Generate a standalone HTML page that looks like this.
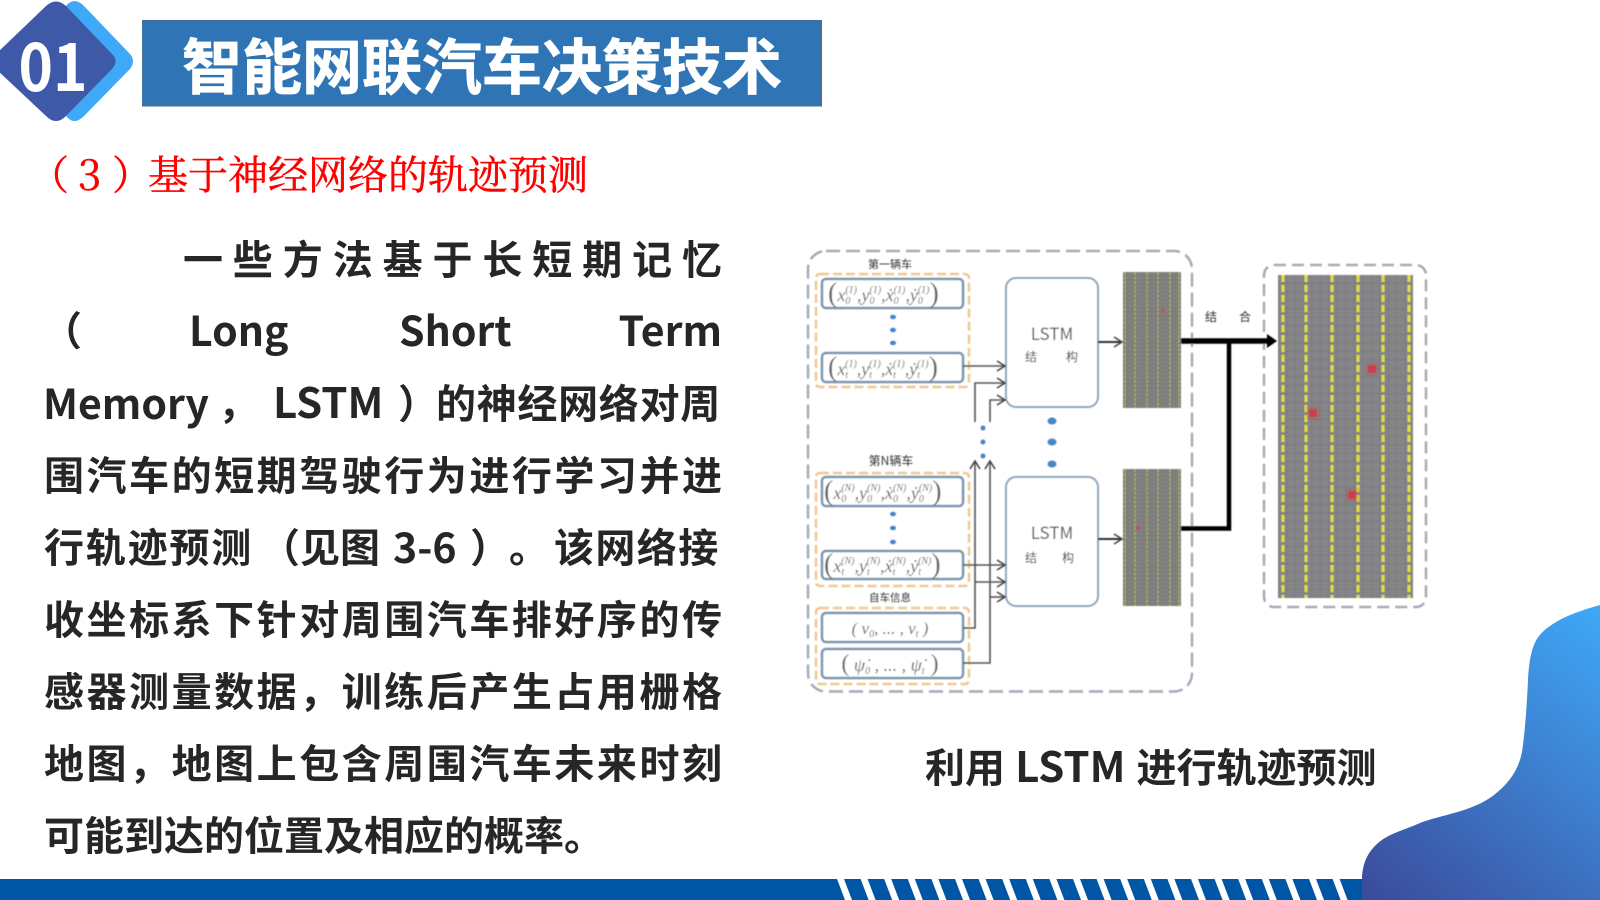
<!DOCTYPE html>
<html lang="zh">
<head>
<meta charset="utf-8">
<title>智能网联汽车决策技术</title>
<style>
html,body{margin:0;padding:0;background:#fff}
#p{position:relative;width:1600px;height:900px;overflow:hidden;background:#fff;font-family:"Noto Sans CJK SC","Liberation Sans",sans-serif}
svg{position:absolute;left:0;top:0}
.l{position:absolute;left:44px;width:678px;height:72px;line-height:72px;font-size:40px;font-weight:700;color:#262626;text-align:justify;text-align-last:justify}
.w{position:absolute;height:72px;line-height:72px;font-size:40px;font-weight:700;color:#262626;white-space:nowrap}
.a{font-size:41px}
.h{position:absolute;font-family:"Noto Serif CJK SC","Liberation Serif",serif;font-size:40px;color:#f00;-webkit-text-stroke:.5px #f00;line-height:50px;top:148px;white-space:nowrap}
</style>
</head>
<body>
<div id="p">
<svg width="1600" height="900" viewBox="0 0 1600 900">
<defs>
<linearGradient id="bg" x1="1362" y1="900" x2="1600" y2="605" gradientUnits="userSpaceOnUse">
<stop offset="0" stop-color="#3b4a9a"/><stop offset="1" stop-color="#3fa9f8"/>
</linearGradient>
<pattern id="g1" width="8.5" height="8.5" patternUnits="userSpaceOnUse" x="1278" y="275">
<rect width="8.5" height="8.5" fill="#858588"/><path d="M8.5 0V8.5M0 8.5H8.5" stroke="#727276" stroke-width="1"/>
</pattern>
<pattern id="g2" width="4" height="4" patternUnits="userSpaceOnUse">
<rect width="4" height="4" fill="#828282"/><path d="M4 0V4M0 4H4" stroke="#707070" stroke-width=".8"/>
</pattern>
<marker id="ah" markerWidth="12" markerHeight="12" refX="10" refY="6" orient="auto" markerUnits="userSpaceOnUse">
<path d="M2 1L10 6L2 11" fill="none" stroke="#444" stroke-width="1.600"/>
</marker>
<filter id="bl" x="-5%" y="-5%" width="110%" height="110%"><feGaussianBlur stdDeviation="0.45"/></filter>
</defs>

<!-- badge -->
<path d="M66 6Q74 -4 84 6L130 54Q136 61 130 69L84 116Q74 126 66 116Z" fill="#3fa9f8"/>
<path d="M46 6Q56 -3 66 6L112 54Q119 61 112 69L66 116Q56 126 46 116L-4 69Q-9 61 -4 54Z" fill="#3d59a8"/>
<text x="53" y="91" font-family="'Noto Sans CJK SC',sans-serif" font-weight="700" font-size="65" fill="#fff" text-anchor="middle" textLength="69" lengthAdjust="spacingAndGlyphs">01</text>

<!-- title -->
<rect x="143" y="21" width="678" height="84.500" fill="#2f75b5" stroke="#41719c" stroke-width="2"/>
<text x="182" y="89" font-family="'Noto Sans CJK SC',sans-serif" font-weight="700" font-size="60" fill="#fff" stroke="#fff" stroke-width=".8">智能网联汽车决策技术</text>

<!-- bottom bar -->
<rect x="0" y="879" width="1400" height="21" fill="#0055a5"/>
<g fill="#fff">
<path d="M837 879h7l8 21h-7z"/><path d="M860.600 879h7l8 21h-7z"/><path d="M884.200 879h7l8 21h-7z"/><path d="M907.800 879h7l8 21h-7z"/><path d="M931.400 879h7l8 21h-7z"/><path d="M955 879h7l8 21h-7z"/><path d="M978.600 879h7l8 21h-7z"/><path d="M1002.200 879h7l8 21h-7z"/><path d="M1025.800 879h7l8 21h-7z"/><path d="M1049.400 879h7l8 21h-7z"/><path d="M1073 879h7l8 21h-7z"/><path d="M1096.600 879h7l8 21h-7z"/><path d="M1120.200 879h7l8 21h-7z"/><path d="M1143.800 879h7l8 21h-7z"/><path d="M1167.400 879h7l8 21h-7z"/><path d="M1191 879h7l8 21h-7z"/><path d="M1214.600 879h7l8 21h-7z"/><path d="M1238.200 879h7l8 21h-7z"/><path d="M1261.800 879h7l8 21h-7z"/><path d="M1285.400 879h7l8 21h-7z"/><path d="M1309 879h7l8 21h-7z"/><path d="M1332.600 879h7l8 21h-7z"/>
</g>
<!-- corner blob -->
<path d="M1362 900V877C1363 862 1368 852 1378 843C1390 833 1402 831 1420 823C1440 815 1472 812 1494 795C1512 781 1521 765 1523 745C1526 720 1527 700 1528 680C1529 660 1532 645 1539 636C1551 621 1575 612 1600 605V900Z" fill="url(#bg)"/>

<!-- diagram -->
<g filter="url(#bl)">
<rect x="808" y="251" width="384" height="440.500" rx="18" fill="none" stroke="#a3abb7" stroke-width="2.500" stroke-dasharray="14 6"/>
<g fill="none" stroke="#f1c690" stroke-width="2.500" stroke-dasharray="9 4">
<rect x="816" y="274" width="153" height="113" rx="4"/>
<rect x="816" y="473" width="153" height="113" rx="4"/>
<rect x="816" y="608" width="153" height="76" rx="4"/>
</g>
<g fill="#fff" stroke="#7b94ae" stroke-width="2.500">
<rect x="822" y="279" width="141" height="29" rx="4"/>
<rect x="822" y="353" width="141" height="29" rx="4"/>
<rect x="822" y="477" width="141" height="29" rx="4"/>
<rect x="822" y="551" width="141" height="28" rx="4"/>
<rect x="822" y="613" width="141" height="29" rx="4"/>
<rect x="822" y="649" width="141" height="29" rx="4"/>
</g>
<g fill="#fff" stroke="#8ba3bd" stroke-width="2">
<rect x="1006" y="278" width="92" height="129" rx="10"/>
<rect x="1006" y="477" width="92" height="129" rx="10"/>
</g>

<!-- dots -->
<g fill="#4a86c8">
<ellipse cx="893" cy="317" rx="3" ry="2.300"/><ellipse cx="893" cy="330" rx="3" ry="2.300"/><ellipse cx="893" cy="343" rx="3" ry="2.300"/>
<ellipse cx="893" cy="514" rx="3" ry="2.300"/><ellipse cx="893" cy="528" rx="3" ry="2.300"/><ellipse cx="893" cy="542" rx="3" ry="2.300"/>
<circle cx="983" cy="428" r="2.500"/><circle cx="983" cy="442" r="2.500"/><circle cx="983" cy="456" r="2.500"/>
<ellipse cx="1052" cy="421" rx="4.500" ry="3.500"/><ellipse cx="1052" cy="442" rx="4.500" ry="3.500"/><ellipse cx="1052" cy="464" rx="4.500" ry="3.500"/>
</g>

<!-- connectors -->
<g fill="none" stroke="#555" stroke-width="1.600" marker-end="url(#ah)">
<path d="M963 366H1005"/>
<path d="M975 422V383H1005"/>
<path d="M990 422V400H1005"/>
<path d="M963 565H1005"/>
<path d="M975 582H1005"/>
<path d="M990 597H1005"/>
<path d="M963 628H975V461"/>
<path d="M963 663H990V461"/>
<path d="M1098 342H1122" stroke-width="2" stroke="#333"/>
<path d="M1098 539H1122" stroke-width="2" stroke="#333"/>
</g>

<!-- small grids -->
<rect x="1123" y="272" width="58" height="136" fill="url(#g2)"/>
<rect x="1123" y="469" width="58" height="137" fill="url(#g2)"/>
<g stroke="#b4b84a" stroke-width="1.300" stroke-dasharray="3 1.500" fill="none">
<path d="M1125 272V408M1135 272V408M1147 272V408M1158 272V408M1170 272V408M1179 272V408"/>
<path d="M1125 469V606M1135 469V606M1147 469V606M1158 469V606M1170 469V606M1179 469V606"/>
</g>
<rect x="1161" y="309" width="4" height="4" fill="#b05a5a"/>
<rect x="1136" y="526" width="4" height="4" fill="#b05a5a"/>

<!-- right panel -->
<rect x="1264" y="265" width="162" height="342" rx="10" fill="none" stroke="#a3abb7" stroke-width="2.500" stroke-dasharray="12 6"/>
<rect x="1278" y="275" width="135" height="323" fill="url(#g1)"/>
<g stroke="#e0e030" stroke-width="3" stroke-dasharray="7 3" fill="none">
<path d="M1283 275V598M1306 275V598M1332 275V598M1358 275V598M1383 275V598M1409 275V598"/>
</g>
<g fill="#c9404a" opacity=".18">
<rect x="1365" y="362" width="14" height="14"/>
<rect x="1306" y="406" width="14" height="14"/>
<rect x="1345" y="488" width="14" height="14"/>
</g>
<g fill="#c9404a">
<rect x="1368" y="365" width="8" height="8"/>
<rect x="1309" y="409" width="8" height="8"/>
<rect x="1348" y="491" width="8" height="8"/>
</g>

<!-- thick connectors -->
<path d="M1181 341H1268" stroke="#000" stroke-width="5.500" fill="none"/>
<path d="M1267 334L1277 341L1267 348Z" fill="#000"/>
<path d="M1181 528.500H1229V341" stroke="#000" stroke-width="4.500" fill="none"/>

<!-- labels -->
<g font-family="'Noto Sans CJK SC',sans-serif" fill="#333" text-anchor="middle">
<text x="890" y="268" font-size="11">第一辆车</text>
<text x="891" y="465" font-size="12">第N辆车</text>
<text x="890" y="601" font-size="10.500">自车信息</text>
<text x="1052" y="340" font-size="17" fill="#555">LSTM</text>
<text x="1031" y="361" font-size="12">结</text><text x="1072" y="361" font-size="12">构</text>
<text x="1052" y="539" font-size="17" fill="#555">LSTM</text>
<text x="1031" y="562" font-size="12">结</text><text x="1068" y="562" font-size="12">构</text>
<text x="1211" y="321" font-size="12">结</text><text x="1245" y="321" font-size="12">合</text>
</g>

<!-- formulas -->
<g font-family="'Liberation Serif',serif" font-style="italic" font-size="18" fill="#666">
<text y="301"><tspan x="828" font-size="28" font-style="normal" dy="1">(</tspan><tspan dy="-1">x</tspan><tspan dy="3" font-size="10">0</tspan><tspan dx="-5" dy="-11" font-size="10">(1)</tspan><tspan dy="8">,y</tspan><tspan dy="3" font-size="10">0</tspan><tspan dx="-5" dy="-11" font-size="10">(1)</tspan><tspan dy="8">,ẋ</tspan><tspan dy="3" font-size="10">0</tspan><tspan dx="-5" dy="-11" font-size="10">(1)</tspan><tspan dy="8">,ẏ</tspan><tspan dy="3" font-size="10">0</tspan><tspan dx="-5" dy="-11" font-size="10">(1)</tspan><tspan dy="9" font-size="28" font-style="normal">)</tspan></text>
<text y="375"><tspan x="828" font-size="28" font-style="normal" dy="1">(</tspan><tspan dy="-1">x</tspan><tspan dy="3" font-size="10">t</tspan><tspan dx="-3" dy="-11" font-size="10">(1)</tspan><tspan dy="8">,y</tspan><tspan dy="3" font-size="10">t</tspan><tspan dx="-3" dy="-11" font-size="10">(1)</tspan><tspan dy="8">,ẋ</tspan><tspan dy="3" font-size="10">t</tspan><tspan dx="-3" dy="-11" font-size="10">(1)</tspan><tspan dy="8">,ẏ</tspan><tspan dy="3" font-size="10">t</tspan><tspan dx="-3" dy="-11" font-size="10">(1)</tspan><tspan dy="9" font-size="28" font-style="normal">)</tspan></text>
<text y="499"><tspan x="824" font-size="28" font-style="normal" dy="1">(</tspan><tspan dy="-1">x</tspan><tspan dy="3" font-size="10">0</tspan><tspan dx="-5" dy="-11" font-size="10">(N)</tspan><tspan dy="8">,y</tspan><tspan dy="3" font-size="10">0</tspan><tspan dx="-5" dy="-11" font-size="10">(N)</tspan><tspan dy="8">,ẋ</tspan><tspan dy="3" font-size="10">0</tspan><tspan dx="-5" dy="-11" font-size="10">(N)</tspan><tspan dy="8">,ẏ</tspan><tspan dy="3" font-size="10">0</tspan><tspan dx="-5" dy="-11" font-size="10">(N)</tspan><tspan dy="9" font-size="28" font-style="normal">)</tspan></text>
<text y="572"><tspan x="824" font-size="28" font-style="normal" dy="1">(</tspan><tspan dy="-1">x</tspan><tspan dy="3" font-size="10">t</tspan><tspan dx="-3" dy="-11" font-size="10">(N)</tspan><tspan dy="8">,y</tspan><tspan dy="3" font-size="10">t</tspan><tspan dx="-3" dy="-11" font-size="10">(N)</tspan><tspan dy="8">,ẋ</tspan><tspan dy="3" font-size="10">t</tspan><tspan dx="-3" dy="-11" font-size="10">(N)</tspan><tspan dy="8">,ẏ</tspan><tspan dy="3" font-size="10">t</tspan><tspan dx="-3" dy="-11" font-size="10">(N)</tspan><tspan dy="9" font-size="28" font-style="normal">)</tspan></text>
<text x="890" y="634" text-anchor="middle" font-size="17">( v<tspan font-size="10" dy="3">0</tspan><tspan dy="-3">, ... , v</tspan><tspan font-size="10" dy="3">t</tspan><tspan dy="-3"> )</tspan></text>
<text x="890" y="671" text-anchor="middle" font-size="18"><tspan font-size="24" font-style="normal">(</tspan> ψ̇<tspan font-size="10" dy="3">0</tspan><tspan dy="-3"> , ... , ψ̇</tspan><tspan font-size="10" dy="3">t</tspan><tspan dy="-3" font-size="24" font-style="normal"> )</tspan></text>
</g>
</g>

<!-- caption -->
<text x="925" y="782" font-family="'Noto Sans CJK SC',sans-serif" font-weight="700" font-size="40" fill="#262626">利用 <tspan font-size="42" dx="1">LSTM</tspan> <tspan dx="2">进行轨迹预测</tspan></text>
</svg>

<!-- red heading -->
<div class="h" style="left:29px">（</div>
<div class="h" style="left:78px;font-size:42px">3</div>
<div class="h" style="left:112px">）</div>
<div class="h" style="left:148px">基于神经网络的轨迹预测</div>

<!-- body -->
<div class="l" style="left:183px;width:539px;top:221px">一些方法基于长短期记忆</div>

<div class="w" style="left:42px;top:292px">（</div>
<div class="w a" style="left:189px;top:292px">Long</div>
<div class="w a" style="left:399px;top:292px">Short</div>
<div class="w a" style="right:878px;top:292px">Term</div>

<div class="w a" style="left:43px;top:365px">Memory</div>
<div class="w" style="left:218px;top:365px">，</div>
<div class="w a" style="left:273px;top:365px;font-size:42px">LSTM</div>
<div class="w" style="left:398px;top:365px">）</div>
<div class="w" style="left:436px;top:365px;letter-spacing:.7px">的神经网络对周</div>

<div class="l" style="top:437px">围汽车的短期驾驶行为进行学习并进</div>

<div class="w" style="left:44px;top:509px;letter-spacing:1.800px">行轨迹预测</div>
<div class="w" style="left:260px;top:509px">（</div>
<div class="w" style="left:300px;top:509px">见图</div>
<div class="w a" style="left:393px;top:509px">3-6</div>
<div class="w" style="left:470px;top:509px">）</div>
<div class="w" style="left:509px;top:509px">。</div>
<div class="w" style="left:554px;top:509px;letter-spacing:1.400px">该网络接</div>

<div class="l" style="top:581px">收坐标系下针对周围汽车排好序的传</div>
<div class="l" style="top:653px">感器测量数据，训练后产生占用栅格</div>
<div class="l" style="top:725px">地图，地图上包含周围汽车未来时刻</div>
<div class="l" style="top:797px;text-align:left;text-align-last:left">可能到达的位置及相应的概率。</div>
</div>
</body>
</html>
